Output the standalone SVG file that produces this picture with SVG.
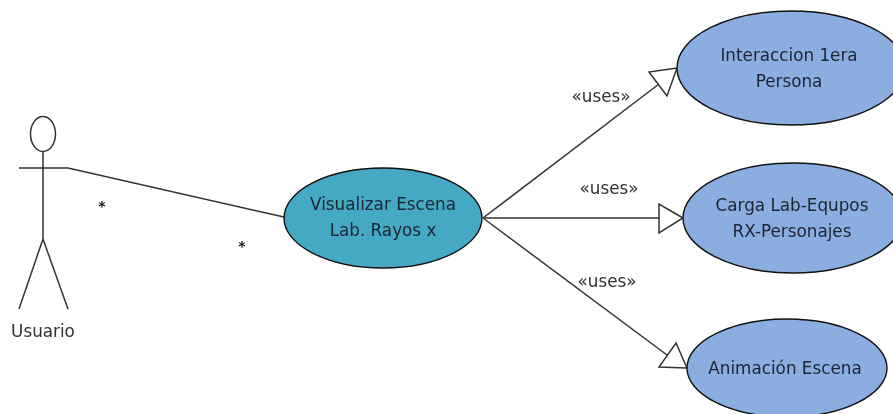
<svg xmlns="http://www.w3.org/2000/svg" width="893" height="414" viewBox="0 0 893 414">
<defs><filter id="soft" x="-5%" y="-20%" width="110%" height="140%"><feGaussianBlur stdDeviation="0.4"/></filter></defs>
<style>
text{font-family:"DejaVu Sans","Liberation Sans",sans-serif;font-size:16.8px;fill:#1c2530;text-anchor:middle;filter:url(#soft)}
.lbl{fill:#333}
.star{fill:#111;font-size:14px;font-weight:bold}
.use{fill:#8aaee0;stroke:#111;stroke-width:1.4}
.ln{fill:none;stroke:#333;stroke-width:1.5}
.head{fill:#fff;stroke:#333;stroke-width:1.5;stroke-linejoin:miter}
</style>
<rect width="893" height="414" fill="#fff"/>
<g id="connectors">
<path class="ln" d="M68 168L284 217"/>
<path class="ln" d="M483 218L659 84"/>
<path class="ln" d="M483 218L659 218"/>
<path class="ln" d="M483 218L667 355"/>
<path class="head" d="M677 68L649 72L667 96Z"/>
<path class="head" d="M683 218L659 204L659 233Z"/>
<path class="head" d="M687 368L659 367L676 343Z"/>
<text class="lbl" x="601" y="102">«uses»</text>
<text class="lbl" x="609" y="194">«uses»</text>
<text class="lbl" x="607" y="287">«uses»</text>
<text class="star" x="102" y="211">*</text>
<text class="star" x="242" y="251">*</text>
</g>
<g id="actor-usuario">
<ellipse cx="43" cy="134" rx="12.5" ry="17.5" fill="#fff" stroke="#333" stroke-width="1.5"/>
<path class="ln" d="M43 151V239M19 168H68M19 309L43 239L68 309"/>
<text class="lbl" x="43" y="337">Usuario</text>
</g>
<g id="visualizar">
<ellipse cx="383" cy="218" rx="99" ry="50" fill="#46a9c4" stroke="#111" stroke-width="1.4"/>
<text x="383" y="210">Visualizar Escena</text>
<text x="383" y="236">Lab. Rayos x</text>
</g>
<g id="interaccion">
<ellipse class="use" cx="791" cy="68" rx="114" ry="57"/>
<text x="789" y="61">Interaccion 1era</text>
<text x="789" y="87">Persona</text>
</g>
<g id="carga">
<ellipse class="use" cx="793" cy="218" rx="110" ry="55"/>
<text x="792" y="211">Carga Lab-Equpos</text>
<text x="792" y="237">RX-Personajes</text>
</g>
<g id="animacion">
<ellipse class="use" cx="787" cy="368" rx="100" ry="49"/>
<text x="785" y="374">Animación Escena</text>
</g>
</svg>
